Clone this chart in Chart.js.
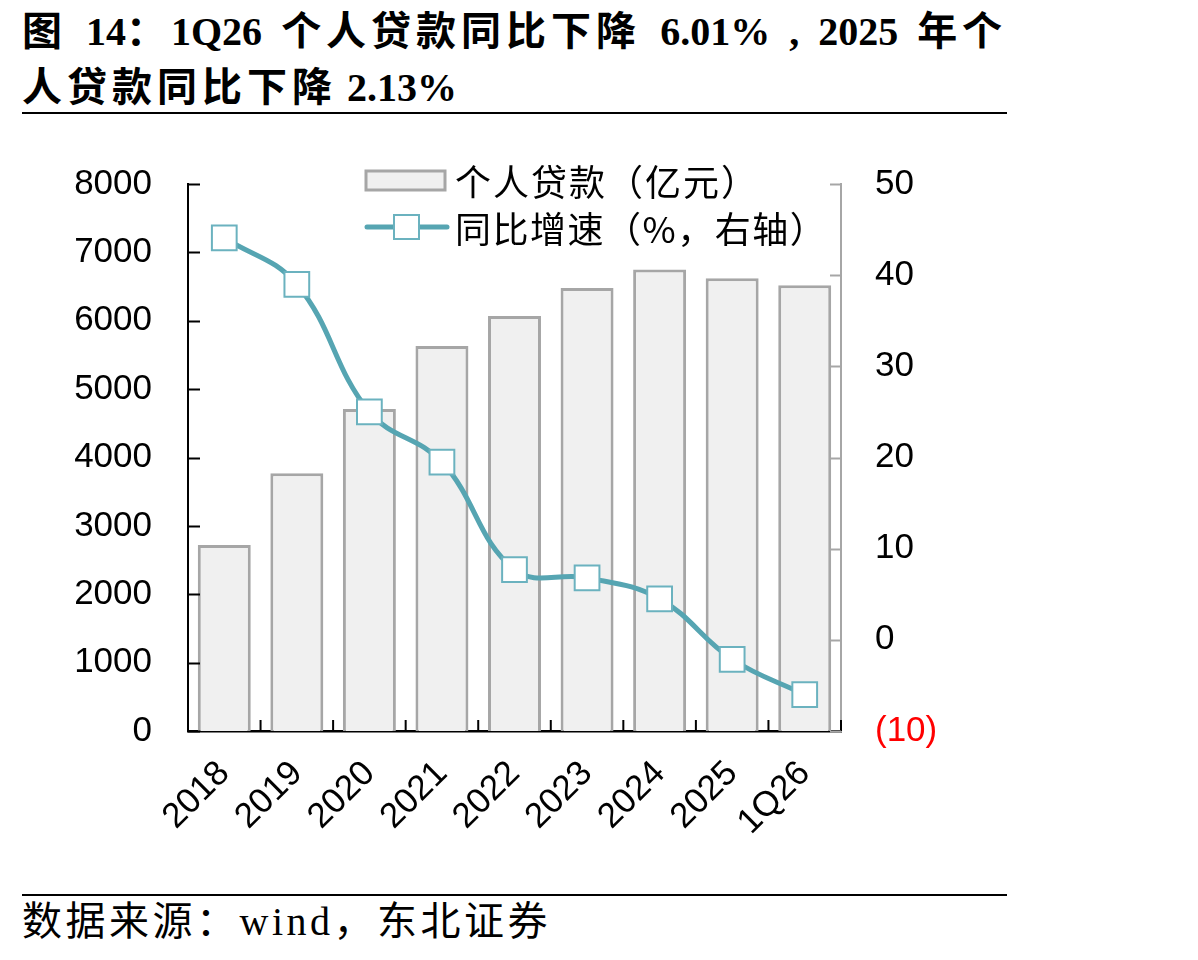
<!DOCTYPE html>
<html lang="zh">
<head>
  <meta charset="utf-8">
  <title>个人贷款</title>
  <script src="https://cdn.jsdelivr.net/npm/chart.js"></script>
  <style>
    body { margin: 0; background: #fff; width: 1198px; height: 960px; position: relative; overflow: hidden; }
    .title { position: absolute; left: 22px; font: bold 40px "Liberation Serif", "Noto Sans CJK SC", serif; line-height: 56px; color: #000; white-space: pre; }
    .title .c { letter-spacing: 5px; }
    .rule { position: absolute; left: 22px; width: 985px; height: 2px; background: #000; }
    #source { position: absolute; left: 22px; top: 902px; font: 40px "Liberation Serif", "Noto Sans CJK SC", serif; line-height: 40px; letter-spacing: 3.5px; color: #000; white-space: nowrap; }
    #chart { position: absolute; left: 0; top: 120px; }
  </style>
</head>
<body>
  <div class="title" style="top:4px; word-spacing:9px"><span class="c">图</span> 14<span class="c">：</span>1Q26 <span class="c">个人贷款同比下降</span> 6.01% , 2025 <span class="c">年个</span></div>
  <div class="title" style="top:60px"><span class="c">人贷款同比下降</span> 2.13%</div>
  <div class="rule" style="top:112px"></div>
  <canvas id="chart" width="1010" height="760"></canvas>
  <div class="rule" style="top:894px"></div>
  <div id="source">数据来源：wind，东北证券</div>
  <script>
    // values
    const categories = ['2018', '2019', '2020', '2021', '2022', '2023', '2024', '2025', '1Q26'];
    const loans = [2720, 3770, 4710, 5630, 6070, 6480, 6750, 6620, 6520];   // 亿元
    const growth = [44.1, 39.0, 25.0, 19.5, 7.7, 6.8, 4.5, -2.13, -6.01]; // %

    const loanTicks = [0, 1000, 2000, 3000, 4000, 5000, 6000, 7000, 8000];
    const growthTicks = [-10, 0, 10, 20, 30, 40, 50];

    const lineColor = '#56a5b2';
    const markerBorder = '#6bb2bf';
    const barFill = '#f0f0f0';
    const barBorder = '#a6a6a6';
    const axisFont = { family: '"Liberation Sans", Arial, sans-serif', size: 35 };

    // small inward tick marks + legend inside the plot
    const extras = {
      id: 'extras',
      afterDraw(chart) {
        const ctx = chart.ctx;
        const a = chart.chartArea;
        const y = chart.scales.y, y1 = chart.scales.y1;
        ctx.save();
        ctx.lineWidth = 2;
        ctx.strokeStyle = '#000';
        loanTicks.forEach(v => {
          const py = Math.round(y.getPixelForValue(v)) + 0.5;
          ctx.beginPath(); ctx.moveTo(a.left, py); ctx.lineTo(a.left + 12, py); ctx.stroke();
        });
        const step = (a.right - a.left) / categories.length;
        for (let i = 0; i <= categories.length; i++) {
          const px = a.left + step * i;
          ctx.beginPath(); ctx.moveTo(px, a.bottom); ctx.lineTo(px, a.bottom - 11); ctx.stroke();
        }
        ctx.strokeStyle = barBorder;
        growthTicks.forEach(v => {
          const py = Math.round(y1.getPixelForValue(v)) + 0.5;
          ctx.beginPath(); ctx.moveTo(a.right - 11, py); ctx.lineTo(a.right, py); ctx.stroke();
        });

        // legend
        ctx.font = '36px "Noto Sans CJK SC", sans-serif';
        ctx.letterSpacing = '2px';
        ctx.textBaseline = 'middle';
        ctx.fillStyle = barFill;
        ctx.fillRect(366, 51, 79, 19);
        ctx.strokeStyle = barBorder;
        ctx.lineWidth = 3;
        ctx.strokeRect(366, 51, 79, 19);
        ctx.fillStyle = '#000';
        ctx.fillText('个人贷款（亿元）', 455, 62);

        ctx.strokeStyle = lineColor;
        ctx.lineWidth = 5;
        ctx.lineCap = 'round';
        ctx.beginPath(); ctx.moveTo(367, 107); ctx.lineTo(447, 107); ctx.stroke();
        ctx.fillStyle = '#fff';
        ctx.fillRect(394, 95, 25, 24);
        ctx.strokeStyle = markerBorder;
        ctx.lineWidth = 2;
        ctx.strokeRect(394, 95, 25, 24);
        ctx.fillStyle = '#000';
        ctx.letterSpacing = '1.5px';
        ctx.fillText('同比增速（%，右轴）', 455, 109);
        ctx.restore();
      }
    };

    new Chart(document.getElementById('chart'), {
      type: 'bar',
      data: {
        labels: categories,
        datasets: [
          {
            type: 'line',
            label: '同比增速(%，右轴)',
            data: growth,
            yAxisID: 'y1',
            order: 0,
            borderColor: lineColor,
            borderWidth: 5,
            tension: 0.4,
            pointStyle: 'rect',
            pointRadius: 17.5,
            pointBackgroundColor: '#fff',
            pointBorderColor: markerBorder,
            pointBorderWidth: 2
          },
          {
            label: '个人贷款(亿元)',
            data: loans,
            yAxisID: 'y',
            order: 1,
            backgroundColor: barFill,
            borderColor: barBorder,
            borderWidth: 3,
            categoryPercentage: 1,
            barPercentage: 0.73
          }
        ]
      },
      options: {
        responsive: false,
        devicePixelRatio: 1,
        animation: false,
        layout: { padding: { top: 64, right: 0, bottom: 0, left: 0 } },
        plugins: {
          legend: { display: false },
          tooltip: { enabled: false }
        },
        scales: {
          x: {
            offset: true,
            grid: { display: false },
            border: { color: '#000', width: 2.5 },
            ticks: { color: '#000', font: axisFont, minRotation: 45, maxRotation: 45, padding: 14 },
            afterFit(s) { s.height = 149; }
          },
          y: {
            position: 'left',
            min: 0, max: 8000,
            grid: { display: false, drawTicks: false },
            border: { color: '#000', width: 2 },
            ticks: { stepSize: 1000, color: '#000', font: axisFont, padding: 36, callback: v => String(v) },
            afterFit(s) { s.width = 188; }
          },
          y1: {
            position: 'right',
            min: -10, max: 50,
            grid: { display: false, drawTicks: false },
            border: { color: barBorder, width: 2 },
            ticks: {
              stepSize: 10,
              font: axisFont,
              padding: 34,
              color: c => c.tick.value < 0 ? '#ff0000' : '#000',
              callback: v => v < 0 ? '(' + Math.abs(v) + ')' : String(v)
            },
            afterFit(s) { s.width = 169; }
          }
        }
      },
      plugins: [extras]
    });
  </script>
</body>
</html>
